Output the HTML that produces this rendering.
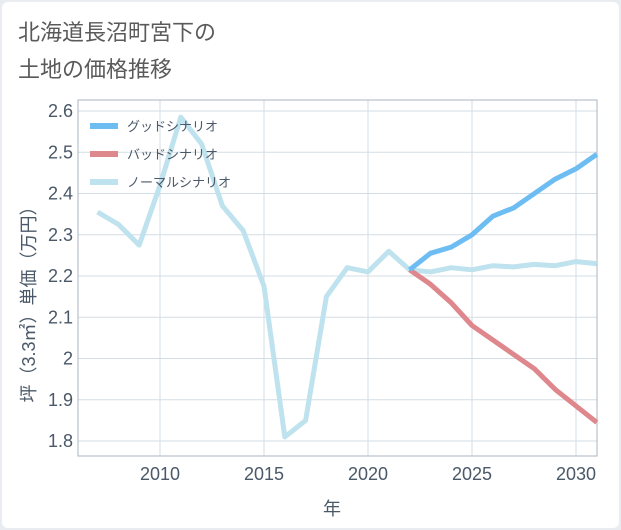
<!DOCTYPE html>
<html><head><meta charset="utf-8"><style>
body{margin:0;background:#e9edf1;}
#card{position:absolute;left:2px;top:2px;width:617px;height:526px;background:#fff;border-radius:6px;}
svg{position:absolute;left:0;top:0;}
text{font-family:"Liberation Sans","Noto Sans CJK JP",sans-serif;}
</style></head><body>
<div id="card"></div>
<svg id="c" width="621" height="530"></svg>
<script>
const years=[2007,2008,2009,2010,2011,2012,2013,2014,2015,2016,2017,2018,2019,2020,2021,2022,2023,2024,2025,2026,2027,2028,2029,2030,2031];
const normal=[2.355,2.325,2.275,2.42,2.585,2.52,2.37,2.31,2.175,1.81,1.85,2.15,2.22,2.21,2.26,2.215,2.21,2.22,2.215,2.225,2.222,2.228,2.225,2.235,2.23];
const futureYears=[2022,2023,2024,2025,2026,2027,2028,2029,2030,2031];
const good=[2.215,2.255,2.27,2.30,2.345,2.365,2.40,2.435,2.46,2.495];
const bad=[2.215,2.18,2.135,2.08,2.045,2.01,1.975,1.925,1.885,1.845];
const yTicks=[1.8,1.9,2,2.1,2.2,2.3,2.4,2.5,2.6];
const yTickLabels=["1.8","1.9","2","2.1","2.2","2.3","2.4","2.5","2.6"];
const xTicks=[2010,2015,2020,2025,2030];
const L=78,R=597,T=100,B=456;
const X=v=>160+(v-2010)*20.8;
const Y=v=>441-(v-1.8)*412.5;
const svg=document.getElementById('c');const NS='http://www.w3.org/2000/svg';
function el(t,a,p){const e=document.createElementNS(NS,t);for(const k in a)e.setAttribute(k,a[k]);(p||svg).appendChild(e);return e;}
let e;
e=el('text',{x:18,y:40,'font-size':22,fill:'#5a5a5a'});e.textContent='北海道長沼町宮下の';

e=el('text',{x:18,y:77,'font-size':22,fill:'#5a5a5a'});e.textContent='土地の価格推移';

yTicks.forEach((v,i)=>{
 e=el('line',{x1:L,x2:R,y1:Y(v),y2:Y(v),stroke:'#d3dde6','stroke-width':1});
 
 e=el('text',{x:73,y:Y(v)+6,'font-size':18,fill:'#4a5868','text-anchor':'end'});e.textContent=yTickLabels[i];
 
});
xTicks.forEach(v=>{
 e=el('line',{x1:X(v),x2:X(v),y1:T,y2:B,stroke:'#d3dde6','stroke-width':1});
 
 e=el('text',{x:X(v),y:480,'font-size':18,fill:'#4a5868','text-anchor':'middle'});e.textContent=String(v);
 
});
e=el('rect',{x:L,y:T,width:R-L,height:B-T,fill:'none',stroke:'#a9b4c0','stroke-width':1});

function line(xs,vs,c,name){const d=xs.map((x,i)=>(i?'L':'M')+X(x).toFixed(1)+','+Y(vs[i]).toFixed(1)).join('');
 const p=el('path',{d:d,fill:'none',stroke:c,'stroke-width':5,'stroke-linejoin':'round'});
 }
line(years,normal,'#bee2ee','normal-scenario-line');
line(futureYears,bad,'#de878c','bad-scenario-line');
line(futureYears,good,'#6dbdf3','good-scenario-line');
const leg=[['グッドシナリオ','#6dbdf3'],['バッドシナリオ','#de878c'],['ノーマルシナリオ','#bee2ee']];
leg.forEach((l,i)=>{const y=126+i*28;
 e=el('line',{x1:90,x2:118,y1:y,y2:y,stroke:l[1],'stroke-width':6});
 
 e=el('text',{x:127,y:y+5,'font-size':13,fill:'#4a5868'});e.textContent=l[0];
 
});
e=el('text',{x:332,y:515,'font-size':18,fill:'#4a5868','text-anchor':'middle'});e.textContent='年';

e=el('text',{x:0,y:0,'font-size':18,fill:'#4a5868','text-anchor':'middle',transform:'translate(35,300) rotate(-90)'});e.textContent='坪（3.3㎡）単価（万円）';

</script>
</body></html>
